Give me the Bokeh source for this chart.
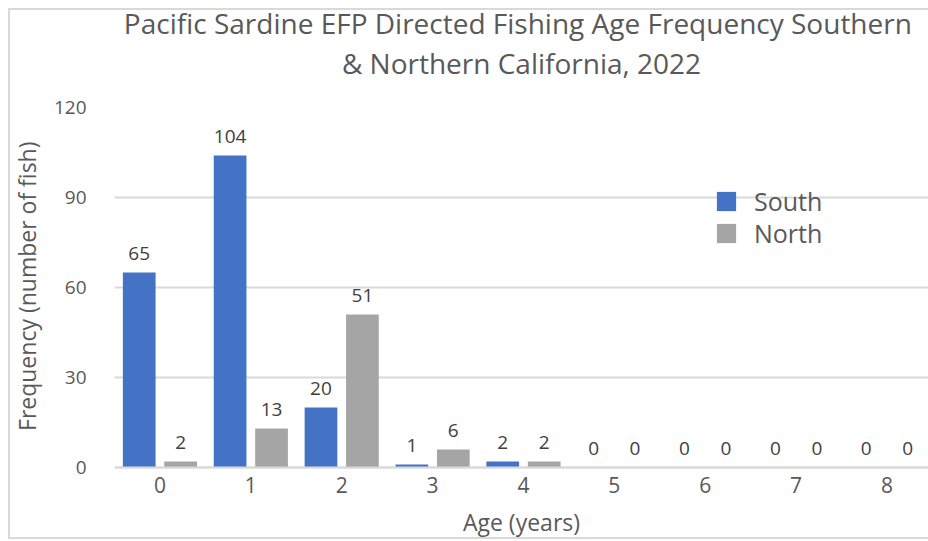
from bokeh.plotting import figure
from bokeh.models import Range1d, FixedTicker, ColumnDataSource, Legend, LegendItem, Title
from bokeh.core.properties import value
from bokeh.transform import dodge
from bokeh.embed import file_html
from bokeh.resources import INLINE

# ---- data ----
ages = [0, 1, 2, 3, 4, 5, 6, 7, 8]
age_labels = ["0", "1", "2", "3", "4", "5", "6", "7", "8"]
south = [65, 104, 20, 1, 2, 0, 0, 0, 0]
north = [2, 13, 51, 6, 2, 0, 0, 0, 0]
y_ticks = [0, 30, 60, 90, 120]
series_names = ["South", "North"]
title_lines = ["Pacific Sardine EFP Directed Fishing Age Frequency  Southern",
               "& Northern California, 2022"]
x_title = "Age (years)"
y_title = "Frequency (number of fish)"

FONT = "Open Sans"
TEXT = "#595959"
LABEL = "#404040"
GRID = "#D9D9D9"
C_SOUTH = "#4472C4"
C_NORTH = "#A5A5A5"

W_FIG, H_FIG = 928, 541

src = ColumnDataSource(dict(
    age=ages, south=south, north=north,
    south_txt=[str(v) for v in south], north_txt=[str(v) for v in north],
))

# plot area reaches the bottom of the canvas; the value axis starts below 0 so
# that the category axis (fixed at 0) has room for its labels inside the frame
p = figure(width=W_FIG, height=H_FIG, output_backend="svg", toolbar_location=None,
           title=None,
           x_range=Range1d(-0.5, 8.457), y_range=Range1d(-24.667, 120),
           min_border_left=114, min_border_right=0, min_border_top=107,
           min_border_bottom=0)
p.outline_line_color = None
p.background_fill_color = None
p.border_fill_color = None
# outer chart border (left, top, bottom; the right edge is cropped in the reference)
p.styles = {
    "background-color": "white",
    "background-image": "linear-gradient(#D9D9D9,#D9D9D9), linear-gradient(#D9D9D9,#D9D9D9), linear-gradient(#D9D9D9,#D9D9D9)",
    "background-position": "8px 8px, 8px 8px, 8px 537px",
    "background-size": "2px 531px, 920px 2px, 920px 2px",
    "background-repeat": "no-repeat",
}

OFF = 0.228
W = 0.36
r1 = p.vbar(x=dodge("age", -OFF), top="south", width=W, source=src,
            fill_color=C_SOUTH, line_color=None)
r2 = p.vbar(x=dodge("age", OFF), top="north", width=W, source=src,
            fill_color=C_NORTH, line_color=None)

for col, off in (("south", -OFF), ("north", OFF)):
    p.text(x=dodge("age", off), y=col, text=col + "_txt", source=src,
           text_align="center", text_baseline="alphabetic", y_offset=-19,
           text_font=value(FONT), text_font_size="19px", text_color=LABEL)

# axes
p.xaxis.ticker = FixedTicker(ticks=ages)
p.xaxis.major_label_overrides = {a: l for a, l in zip(ages, age_labels)}
p.xaxis.fixed_location = 0
p.yaxis.ticker = FixedTicker(ticks=y_ticks)
for ax in (p.xaxis, p.yaxis):
    ax.major_tick_line_color = None
    ax.minor_tick_line_color = None
    ax.major_tick_out = 0
    ax.major_tick_in = 0
    ax.minor_tick_out = 0
    ax.minor_tick_in = 0
    ax.major_label_text_font = FONT
    ax.major_label_text_color = TEXT
    ax.axis_label_text_font = FONT
    ax.axis_label_text_font_size = "23px"
    ax.axis_label_text_font_style = "normal"
    ax.axis_label_text_color = TEXT
p.xaxis.major_label_text_font_size = "21px"
p.yaxis.major_label_text_font_size = "19px"
p.xaxis.axis_line_color = GRID
p.xaxis.axis_line_width = 2
p.yaxis.axis_line_color = None
p.xaxis.axis_label = x_title
p.xaxis.major_label_standoff = 10
p.xaxis.axis_label_standoff = 9
p.yaxis.major_label_standoff = 28

p.xgrid.visible = False
p.ygrid.grid_line_color = GRID
p.ygrid.grid_line_width = 2

# value-axis title, placed along the 0-120 part of the value axis
p.add_layout(Title(text=y_title, align="right", offset=34, standoff=16,
                   text_font=FONT, text_font_size="23px", text_font_style="normal",
                   text_color=TEXT), "left")

legend_common = dict(border_line_color=None, background_fill_alpha=0,
                     padding=0, margin=0, spacing=0,
                     glyph_width=24, glyph_height=24, label_height=24,
                     label_standoff=16, label_text_font=FONT,
                     label_text_font_size="25px", label_text_color=TEXT)
p.add_layout(Legend(items=[LegendItem(label=series_names[0], renderers=[r1])],
                    location=(600, 323), **legend_common))
p.add_layout(Legend(items=[LegendItem(label=series_names[1], renderers=[r2])],
                    location=(600, 291), **legend_common))

p.add_layout(Title(text=title_lines[1], align="center", text_font=FONT,
                   text_font_size="28px", text_font_style="normal",
                   text_color=TEXT, standoff=52), "above")
p.add_layout(Title(text=title_lines[0], align="center", text_font=FONT,
                   text_font_size="28px", text_font_style="normal",
                   text_color=TEXT, standoff=-52), "above")

open("out.html", "w").write(file_html(p, INLINE))
